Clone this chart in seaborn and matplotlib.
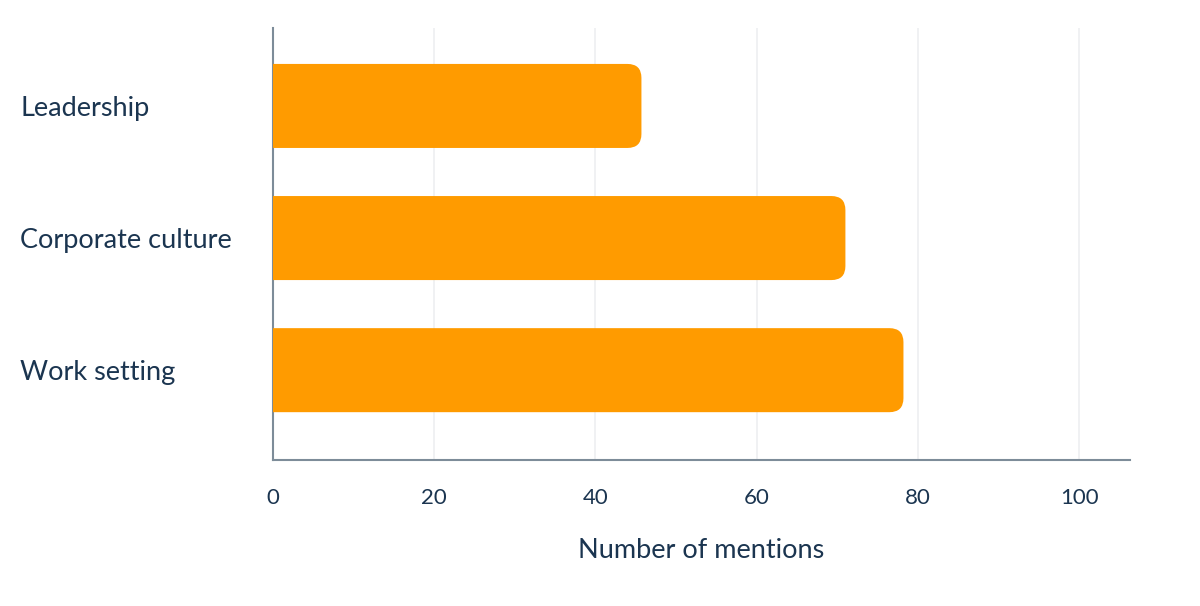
import matplotlib
matplotlib.use("Agg")
import matplotlib.pyplot as plt
import seaborn as sns
import pandas as pd
from matplotlib.patches import FancyBboxPatch

categories = ["Leadership", "Corporate culture", "Work setting"]
mentions = [45.7, 71, 78.2]
xticks = [0, 20, 40, 60, 80, 100]

BAR = "#FF9B00"
TXT = "#1B3550"
SPINE = "#7D8C99"
GRID = "#EDEFF1"

sns.set_theme(style="white")
plt.rcParams["font.family"] = ["Lato", "DejaVu Sans"]

fig = plt.figure(figsize=(12, 6.06), dpi=100)
ax = fig.add_axes([273/1200, 1-460/606, (1130-273)/1200, (460-28)/606])

df = pd.DataFrame({"cat": categories, "val": mentions})
sns.barplot(data=df, y="cat", x="val", color=BAR, width=0.636, ax=ax, saturation=1)

ax.set_xlim(0, 106.3)
ax.set_ylim(2.68, -0.59)

fig.canvas.draw()
px_x = 106.3 / (1130-273)
px_y = (2.68+0.59) / (460-28)
aspect = px_y / px_x
r = 14 * px_x
for p in list(ax.patches):
    x0, y0 = p.get_x(), p.get_y()
    w, h = p.get_width(), p.get_height()
    p.set_visible(False)
    fb = FancyBboxPatch((x0 - 3*r, y0), w + 3*r, h,
                        boxstyle=f"round,pad=0,rounding_size={r}",
                        mutation_aspect=aspect, facecolor=BAR, edgecolor="none",
                        transform=ax.transData, zorder=3)
    fb.set_clip_path(ax.patch)
    ax.add_patch(fb)

ax.set_xticks(xticks)
ax.set_xticklabels([str(t) for t in xticks])
for t in xticks[1:]:
    ax.axvline(t, color=GRID, lw=1.2, zorder=0)

for s in ["top", "right"]:
    ax.spines[s].set_visible(False)
for s in ["left", "bottom"]:
    ax.spines[s].set_color(SPINE)
    ax.spines[s].set_linewidth(1.5)

ax.tick_params(axis="x", length=0, pad=20, labelsize=16, labelcolor=TXT)
ax.tick_params(axis="y", length=0, pad=182, labelsize=19.5, labelcolor=TXT)
for lbl in ax.get_yticklabels():
    lbl.set_horizontalalignment("left")

ax.set_ylabel("")
ax.set_xlabel("Number of mentions", fontsize=19.5, color=TXT, labelpad=22)

fig.savefig("out.png", dpi=100, facecolor="white")
